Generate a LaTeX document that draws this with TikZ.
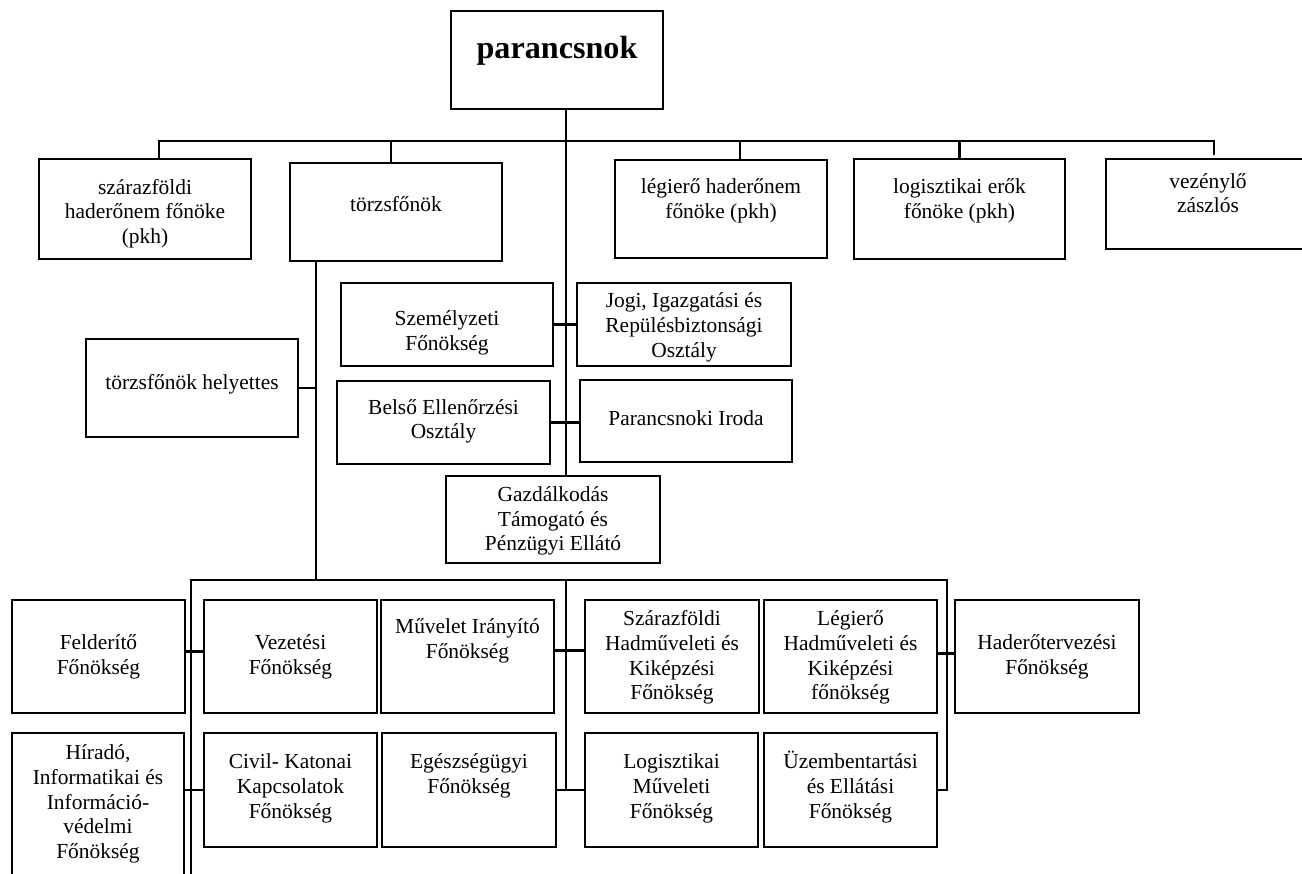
\documentclass[tikz,border=0pt]{standalone}
\usepackage{fontspec}
\setmainfont{Liberation Serif}
\usetikzlibrary{calc}

\tikzset{
  dept/.style 2 args={draw, line width=1.6pt, inner sep=0pt, align=center,
    font=\fontsize{12}{13.8}\selectfont,
    minimum width=#1*0.56pt, minimum height=#2*0.56pt},
  lift/.style={text height=#1},
  link/.style={line width=1.35pt},
}

\begin{document}
\begin{tikzpicture}[x=0.56pt, y=-0.56pt]
  \useasboundingbox (0,0) rectangle (1302,873);
  \clip (0,0) rectangle (1302,873);

  \node (par)   at (557,60)    [dept={212}{98}, lift=1.7pt, font=\fontsize{18}{21.6}\selectfont\bfseries] {parancsnok};

  \node (sza)   at (145,209)   [dept={212}{100}, lift=41pt]   {szárazföldi\\haderőnem főnöke\\(pkh)};
  \node (tf)    at (396,212)   [dept={212}{98}, lift=-6pt]    {törzsfőnök};
  \node (leg)   at (721,209)   [dept={212}{98}, lift=12.7pt]  {légierő haderőnem\\főnöke (pkh)};
  \node (log)   at (959.5,209) [dept={211}{100}, lift=12.7pt] {logisztikai erők\\főnöke (pkh)};
  \node (vez)   at (1208,204)  [dept={204}{90}, lift=10pt]    {vezénylő\\zászlós};

  \node (tfh)   at (192,388)   [dept={212}{98}, lift=4.8pt]   {törzsfőnök helyettes};
  \node (szem)  at (447,324.5) [dept={212}{83}, lift=31.5pt]  {Személyzeti\\Főnökség};
  \node (jogi)  at (684,324.5) [dept={214}{83}, lift=39pt]    {Jogi, Igazgatási és\\Repülésbiztonsági\\Osztály};
  \node (bel)   at (443.5,422.5) [dept={213}{83}, lift=21pt]  {Belső Ellenőrzési\\Osztály};
  \node (iroda) at (686,421)   [dept={212}{82}, lift=5pt]     {Parancsnoki Iroda};
  \node (gaz)   at (553,519.5) [dept={214}{87}, lift=37.5pt]  {Gazdálkodás\\Támogató és\\Pénzügyi Ellátó};

  \node (fel)   at (98.5,656.5)  [dept={173}{113}, lift=22.6pt] {Felderítő\\Főnökség};
  \node (vezf)  at (290.5,656.5) [dept={173}{113}, lift=22.6pt] {Vezetési\\Főnökség};
  \node (mui)   at (467.5,656.5) [dept={173}{113}, lift=4.7pt]  {Művelet Irányító\\Főnökség};
  \node (szh)   at (672,656.5)   [dept={174}{113}, lift=51pt]   {Szárazföldi\\Hadműveleti és\\Kiképzési\\Főnökség};
  \node (lh)    at (850.5,656.5) [dept={173}{113}, lift=51pt]   {Légierő\\Hadműveleti és\\Kiképzési\\főnökség};
  \node (hdt)   at (1047,656.5)  [dept={184}{113}, lift=22.6pt] {Haderőtervezési\\Főnökség};

  \node (hir)   at (98,823)    [dept={172}{180}, lift=42.3pt] {Híradó,\\Informatikai és\\Információ-\\védelmi\\Főnökség};
  \node (civ)   at (290.5,790) [dept={173}{114}, lift=34pt]   {Civil- Katonai\\Kapcsolatok\\Főnökség};
  \node (egs)   at (469,790)   [dept={174}{114}, lift=6.5pt]  {Egészségügyi\\Főnökség};
  \node (lgm)   at (671.5,790) [dept={173}{114}, lift=34pt]   {Logisztikai\\Műveleti\\Főnökség};
  \node (uzm)   at (850.5,790) [dept={173}{114}, lift=34pt]   {Üzembentartási\\és Ellátási\\Főnökség};

  \coordinate (hub)  at (566,141);
  \coordinate (fork) at (316,580);
  \coordinate (lbus) at (191,580);
  \coordinate (mbus) at (566,580);
  \coordinate (rbus) at (947,580);

  % upper level
  \draw[link] (par.south -| hub) -- (gaz.north -| hub);
  \draw[link] ($(sza.north)+(14,0)$) |- (hub);
  \draw[link] ($(tf.north)+(-5,0)$) |- (hub);
  \draw[link] ($(leg.north)+(19,0)$) |- (hub);
  \draw[link] (log.north) |- (hub);
  \draw[link] ($(vez.north)+(6,-3)$) |- (hub);

  % staff
  \draw[link] (tf.south -| fork) -- (fork);
  \draw[link] (tfh.east) -- (tfh.east -| fork);
  \draw[link] (szem.east) -- (jogi.west);
  \draw[link] (bel.east) -- (bel.east -| iroda.west);

  % directorates
  \draw[link] (hir.south -| lbus) -- (lbus) -- (rbus) -- (uzm.east -| rbus) -- (uzm.east);
  \draw[link] (mbus) -- (egs.east -| mbus);
  \draw[link] ($(fel.east)+(0,-5)$) -- ($(vezf.west)+(0,-5)$);
  \draw[link] ($(mui.east)+(0,-6)$) -- ($(szh.west)+(0,-6)$);
  \draw[link] ($(lh.east)+(0,-3)$) -- ($(hdt.west)+(0,-3)$);
  \draw[link] (hir.east |- civ.west) -- (civ.west);
  \draw[link] (egs.east) -- (lgm.west);
\end{tikzpicture}
\end{document}
